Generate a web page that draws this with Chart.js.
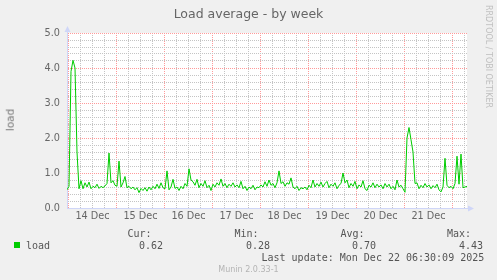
<!DOCTYPE html>
<html>
<head>
<meta charset="utf-8">
<script src="https://cdn.jsdelivr.net/npm/chart.js@4/dist/chart.umd.min.js"></script>
<style>
  body { margin: 0; background: #f0f0f0; }
  #wrap { position: relative; width: 497px; height: 280px; overflow: hidden; font-family: "DejaVu Sans"; color: #666; }
  canvas { position: absolute; left: 0; top: 0; }
  .t { position: absolute; white-space: pre; line-height: 1; }
  .mono { font-family: "DejaVu Sans Mono"; font-size: 10px; color: #555; }
</style>
</head>
<body>
<div id="wrap">
  <canvas id="chart" width="497" height="280"></canvas>
  <div class="t" style="left:0;width:497px;text-align:center;top:7.5px;font-size:12.5px;">Load average - by week</div>
  <div class="t" style="left:10px;top:120px;font-size:10.5px;color:#777;transform:translate(-50%,-50%) rotate(-90deg);">load</div>
  <div class="t" style="left:492px;top:5px;font-size:8px;color:#c0c0c0;transform-origin:0 0;transform:rotate(90deg);">RRDTOOL / TOBI OETIKER</div>

  <div class="t mono" style="left:127.5px;top:229px;">Cur:</div>
  <div class="t mono" style="left:234.5px;top:229px;">Min:</div>
  <div class="t mono" style="left:340.5px;top:229px;">Avg:</div>
  <div class="t mono" style="left:447px;top:229px;">Max:</div>

  <div style="position:absolute;left:14px;top:242px;width:6px;height:6px;background:#00cc00;"></div>
  <div class="t mono" style="left:26px;top:240.5px;">load</div>
  <div class="t mono" style="left:139px;top:240.5px;">0.62</div>
  <div class="t mono" style="left:246px;top:240.5px;">0.28</div>
  <div class="t mono" style="left:352px;top:240.5px;">0.70</div>
  <div class="t mono" style="left:459px;top:240.5px;">4.43</div>

  <div class="t mono" style="left:261.5px;top:252.5px;">Last update: Mon Dec 22 06:30:09 2025</div>
  <div class="t" style="left:0;width:497px;text-align:center;top:265.5px;font-size:8px;color:#b4b4b4;">Munin 2.0.33-1</div>
</div>

<script>
// hours since 14 Dec 00:00, one sample per hour
const startHour = -0.75;
const stepHours = 1;
const xMin = -0.75;
const xMax = 199.25;

const dayLabels = ["14 Dec", "15 Dec", "16 Dec", "17 Dec", "18 Dec", "19 Dec", "20 Dec", "21 Dec"];
// y grid every 0.2, labelled at whole numbers
const yGridTenths = [0, 2, 4, 6, 8, 10, 12, 14, 16, 18, 20, 22, 24, 26, 28, 30, 32, 34, 36, 38, 40, 42, 44, 46, 48, 50];

// load average
const loadValues = [
  0.52, 0.62, 3.90, 4.22, 4.00, 1.60, 0.55, 0.78, 0.55, 0.72,
  0.60, 0.74, 0.55, 0.62, 0.58, 0.68, 0.56, 0.62, 0.58, 0.63,
  0.70, 1.57, 0.72, 0.78, 0.65, 0.62, 1.34, 0.60, 0.72, 0.90,
  0.58, 0.62, 0.55, 0.60, 0.52, 0.58, 0.44, 0.56, 0.50, 0.58,
  0.48, 0.60, 0.52, 0.62, 0.55, 0.68, 0.56, 0.72, 0.58, 0.55,
  1.06, 0.52, 0.60, 0.82, 0.56, 0.60, 0.50, 0.62, 0.55, 0.70,
  0.62, 1.12, 0.80, 0.75, 0.65, 0.82, 0.58, 0.70, 0.62, 0.78,
  0.58, 0.65, 0.50, 0.68, 0.60, 0.72, 0.65, 0.83, 0.62, 0.70,
  0.58, 0.68, 0.62, 0.72, 0.60, 0.66, 0.58, 0.76, 0.55, 0.62,
  0.50, 0.60, 0.55, 0.65, 0.52, 0.60, 0.58, 0.66, 0.60, 0.75,
  0.62, 0.80, 0.65, 0.70, 0.58, 0.72, 1.06, 0.70, 0.75, 0.62,
  0.72, 0.68, 0.86, 0.60, 0.55, 0.62, 0.50, 0.58, 0.55, 0.60,
  0.52, 0.65, 0.58, 0.80, 0.60, 0.70, 0.62, 0.74, 0.60, 0.70,
  0.76, 0.58, 0.68, 0.62, 0.72, 0.55, 0.65, 0.70, 1.00, 0.72,
  0.80, 0.58, 0.70, 0.62, 0.76, 0.55, 0.66, 0.60, 0.78, 0.55,
  0.50, 0.65, 0.60, 0.72, 0.58, 0.68, 0.60, 0.66, 0.55, 0.70,
  0.60, 0.68, 0.55, 0.62, 0.52, 0.80, 0.60, 0.65, 0.55, 0.45,
  2.00, 2.30, 1.95, 1.60, 0.70, 0.72, 0.55, 0.65, 0.58, 0.70,
  0.60, 0.66, 0.55, 0.64, 0.58, 0.68, 0.52, 0.46, 0.60, 1.42,
  0.65, 0.58, 0.62, 0.55, 0.70, 1.48, 0.68, 1.54, 0.58, 0.60,
  0.62
];

const points = loadValues.map((v, i) => ({ x: startHour + i * stepHours, y: v }));

const majorGrid = "#ff9a9a";
const minorGrid = "#c4c4c4";
const axisColor = "#cfd6f8";
const fontColor = "#666666";

// white canvas behind the plot, axis arrows on top
const rrdFrame = {
  id: "rrdFrame",
  beforeDraw(chart) {
    const { ctx, chartArea: a } = chart;
    ctx.save();
    ctx.fillStyle = "#ffffff";
    ctx.fillRect(a.left, a.top, a.right - a.left, a.bottom - a.top);
    ctx.restore();
  },
  afterDraw(chart) {
    const { ctx, chartArea: a } = chart;
    const x0 = Math.round(a.left) + 0.5;
    const y0 = Math.round(a.bottom) + 0.5;
    ctx.save();
    ctx.strokeStyle = axisColor;
    ctx.fillStyle = axisColor;
    ctx.lineWidth = 1;
    ctx.beginPath();
    ctx.moveTo(x0, a.top);
    ctx.lineTo(x0, a.top - 3);
    ctx.moveTo(a.right, y0);
    ctx.lineTo(a.right + 3, y0);
    ctx.stroke();
    ctx.beginPath();
    ctx.moveTo(x0, a.top - 7);
    ctx.lineTo(x0 - 3, a.top - 1);
    ctx.lineTo(x0 + 3, a.top - 1);
    ctx.closePath();
    ctx.fill();
    ctx.beginPath();
    ctx.moveTo(a.right + 7, y0);
    ctx.lineTo(a.right + 1, y0 - 3);
    ctx.lineTo(a.right + 1, y0 + 3);
    ctx.closePath();
    ctx.fill();
    ctx.restore();
  }
};

new Chart(document.getElementById("chart"), {
  type: "line",
  data: {
    datasets: [{
      label: "load",
      data: points,
      borderColor: "#00cc00",
      borderWidth: 1,
      pointRadius: 0,
      tension: 0,
      fill: false
    }]
  },
  options: {
    responsive: false,
    animation: false,
    layout: { padding: { left: 0, top: 33, right: 30, bottom: 0 } },
    plugins: { legend: { display: false }, tooltip: { enabled: false } },
    scales: {
      x: {
        type: "linear",
        min: xMin,
        max: xMax,
        afterFit(scale) { scale.height = 72; },
        afterBuildTicks(scale) {
          const ticks = [];
          for (let h = 0; h <= xMax; h += 6) ticks.push({ value: h });
          scale.ticks = ticks;
        },
        ticks: {
          autoSkip: false,
          maxRotation: 0,
          padding: 3,
          color: fontColor,
          font: { family: "DejaVu Sans", size: 9.7 },
          callback: v => (v % 24 === 12 ? dayLabels[(v - 12) / 24] || "" : "")
        },
        grid: {
          drawTicks: false,
          lineWidth: 1,
          color: c => (c.tick && c.tick.value % 24 === 0 ? majorGrid : minorGrid)
        },
        border: { color: axisColor, width: 1, dash: [1, 1] }
      },
      y: {
        min: 0,
        max: 5,
        afterFit(scale) { scale.width = 67; },
        afterBuildTicks(scale) {
          scale.ticks = yGridTenths.map(t => ({ value: t / 10, tenths: t }));
        },
        ticks: {
          autoSkip: false,
          padding: 7,
          color: fontColor,
          font: { family: "DejaVu Sans", size: 9.7 },
          callback: (v, i, ticks) => (ticks[i].tenths % 10 === 0 ? (ticks[i].tenths / 10).toFixed(1) : "")
        },
        grid: {
          drawTicks: false,
          lineWidth: 1,
          color: c => (c.tick && c.tick.tenths % 10 === 0 ? majorGrid : minorGrid)
        },
        border: { color: axisColor, width: 1, dash: [1, 1] }
      }
    }
  },
  plugins: [rrdFrame]
});
</script>
</body>
</html>
